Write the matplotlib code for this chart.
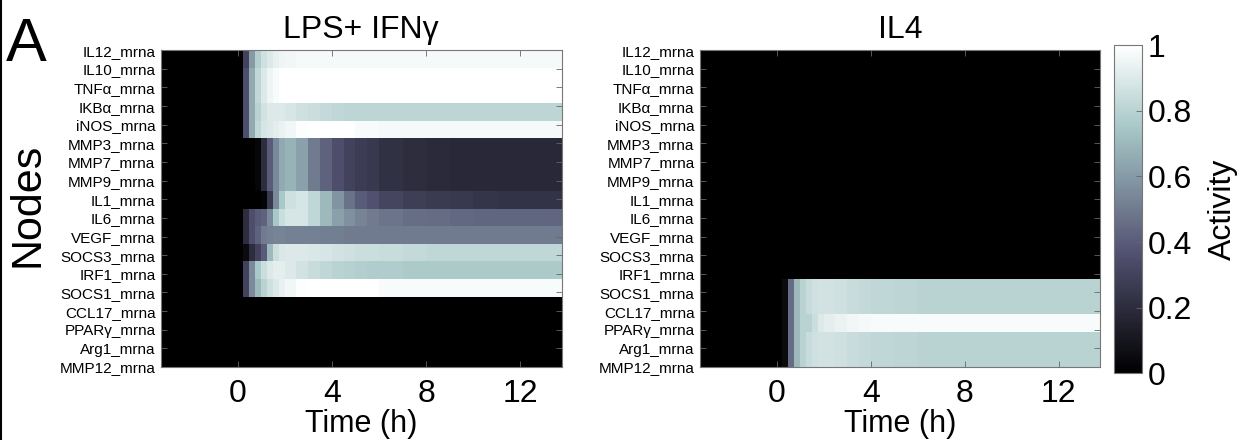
import numpy as np
import matplotlib
matplotlib.use("Agg")
import matplotlib.pyplot as plt
from matplotlib.lines import Line2D

plt.rcParams['font.family'] = ['Liberation Sans', 'DejaVu Sans']

nodes = ["IL12_mrna", "IL10_mrna", "TNFα_mrna", "IKBα_mrna", "iNOS_mrna",
         "MMP3_mrna", "MMP7_mrna", "MMP9_mrna", "IL1_mrna", "IL6_mrna",
         "VEGF_mrna", "SOCS3_mrna", "IRF1_mrna", "SOCS1_mrna", "CCL17_mrna",
         "PPARγ_mrna", "Arg1_mrna", "MMP12_mrna"]

# time bin edges (h)
time_edges = [-3.25, 0.25, 0.5, 0.75, 1.0, 1.25, 1.5, 1.75, 2.0, 2.5, 3.0, 3.5,
              4.0, 4.5, 5.0, 5.5, 6.0, 7.0, 8.0, 9.0, 10.0, 11.0, 12.0, 13.75]
n_cols = len(time_edges) - 1

# LPS + IFNg activity per node
lps_il12 = [0, 0.30, 0.60, 0.78, 0.86, 0.90, 0.93, 0.95, 0.96, 0.97, 0.97, 0.97,
            0.97, 0.97, 0.97, 0.97, 0.97, 0.97, 0.97, 0.97, 0.97, 0.97, 0.97]
lps_il10 = [0, 0.35, 0.65, 0.82, 0.90, 0.95, 0.98, 1.0, 1.0, 1.0, 1.0, 1.0,
            1.0, 1.0, 1.0, 1.0, 1.0, 1.0, 1.0, 1.0, 1.0, 1.0, 1.0]
lps_tnfa = [0, 0.35, 0.65, 0.82, 0.90, 0.95, 0.98, 1.0, 1.0, 1.0, 1.0, 1.0,
            1.0, 1.0, 1.0, 1.0, 1.0, 1.0, 1.0, 1.0, 1.0, 1.0, 1.0]
lps_ikba = [0, 0.35, 0.65, 0.80, 0.87, 0.90, 0.90, 0.90, 0.88, 0.86, 0.85, 0.83,
            0.82, 0.81, 0.81, 0.81, 0.81, 0.81, 0.81, 0.81, 0.81, 0.81, 0.81]
lps_inos = [0, 0.35, 0.65, 0.82, 0.88, 0.90, 0.92, 0.94, 0.96, 0.99, 1.0, 1.0,
            1.0, 1.0, 0.98, 0.98, 0.97, 0.97, 0.97, 0.97, 0.97, 0.97, 0.97]
lps_mmp3 = [0, 0, 0, 0.03, 0.20, 0.40, 0.55, 0.65, 0.68, 0.62, 0.50, 0.42,
            0.35, 0.30, 0.27, 0.25, 0.22, 0.20, 0.19, 0.18, 0.18, 0.18, 0.18]
lps_mmp7 = [0, 0, 0, 0.03, 0.20, 0.40, 0.55, 0.65, 0.68, 0.62, 0.50, 0.42,
            0.35, 0.30, 0.27, 0.25, 0.22, 0.20, 0.19, 0.18, 0.18, 0.18, 0.18]
lps_mmp9 = [0, 0, 0, 0.03, 0.20, 0.40, 0.55, 0.65, 0.68, 0.62, 0.50, 0.42,
            0.35, 0.30, 0.27, 0.25, 0.22, 0.20, 0.19, 0.18, 0.18, 0.18, 0.18]
lps_il1 = [0, 0, 0, 0, 0.02, 0.25, 0.55, 0.75, 0.86, 0.88, 0.82, 0.70,
           0.58, 0.47, 0.40, 0.36, 0.31, 0.28, 0.26, 0.25, 0.24, 0.23, 0.23]
lps_il6 = [0, 0.20, 0.35, 0.40, 0.42, 0.55, 0.75, 0.85, 0.88, 0.88, 0.82, 0.70,
           0.62, 0.57, 0.53, 0.50, 0.48, 0.46, 0.45, 0.44, 0.43, 0.43, 0.43]
lps_vegf = [0, 0.20, 0.35, 0.42, 0.50, 0.52, 0.53, 0.53, 0.52, 0.52, 0.52, 0.51,
            0.51, 0.50, 0.50, 0.50, 0.50, 0.50, 0.50, 0.50, 0.50, 0.50, 0.50]
lps_socs3 = [0, 0.05, 0.20, 0.30, 0.40, 0.70, 0.85, 0.89, 0.90, 0.90, 0.89, 0.88,
             0.87, 0.86, 0.85, 0.85, 0.84, 0.83, 0.82, 0.82, 0.82, 0.82, 0.82]
lps_irf1 = [0, 0.30, 0.55, 0.75, 0.85, 0.90, 0.92, 0.92, 0.90, 0.87, 0.84, 0.82,
            0.80, 0.79, 0.78, 0.77, 0.77, 0.76, 0.76, 0.76, 0.76, 0.76, 0.76]
lps_socs1 = [0, 0.30, 0.55, 0.70, 0.80, 0.86, 0.90, 0.93, 0.96, 0.99, 1.0, 1.0,
             1.0, 1.0, 1.0, 1.0, 0.98, 0.98, 0.98, 0.98, 0.98, 0.98, 0.98]

# IL4 activity per node
il4_socs1 = [0, 0.05, 0.45, 0.70, 0.80, 0.84, 0.86, 0.87, 0.87, 0.86, 0.84, 0.83,
             0.82, 0.82, 0.81, 0.81, 0.80, 0.80, 0.80, 0.80, 0.80, 0.80, 0.80]
il4_ccl17 = [0, 0.05, 0.45, 0.70, 0.80, 0.84, 0.86, 0.87, 0.87, 0.86, 0.84, 0.83,
             0.82, 0.82, 0.81, 0.81, 0.80, 0.80, 0.80, 0.80, 0.80, 0.80, 0.80]
il4_ppar = [0, 0.05, 0.45, 0.70, 0.80, 0.80, 0.85, 0.90, 0.92, 0.94, 0.96, 0.97,
            0.98, 0.98, 0.98, 0.98, 0.98, 0.98, 0.98, 0.98, 0.98, 0.98, 0.98]
il4_arg1 = [0, 0.05, 0.45, 0.70, 0.80, 0.84, 0.86, 0.87, 0.87, 0.86, 0.84, 0.83,
            0.82, 0.82, 0.81, 0.81, 0.80, 0.80, 0.80, 0.80, 0.80, 0.80, 0.80]
il4_mmp12 = [0, 0.05, 0.45, 0.70, 0.80, 0.84, 0.86, 0.87, 0.87, 0.86, 0.84, 0.83,
             0.82, 0.82, 0.81, 0.81, 0.80, 0.80, 0.80, 0.80, 0.80, 0.80, 0.80]

lps_data = {"IL12_mrna": lps_il12, "IL10_mrna": lps_il10, "TNFα_mrna": lps_tnfa,
            "IKBα_mrna": lps_ikba, "iNOS_mrna": lps_inos, "MMP3_mrna": lps_mmp3,
            "MMP7_mrna": lps_mmp7, "MMP9_mrna": lps_mmp9, "IL1_mrna": lps_il1,
            "IL6_mrna": lps_il6, "VEGF_mrna": lps_vegf, "SOCS3_mrna": lps_socs3,
            "IRF1_mrna": lps_irf1, "SOCS1_mrna": lps_socs1}
il4_data = {"SOCS1_mrna": il4_socs1, "CCL17_mrna": il4_ccl17, "PPARγ_mrna": il4_ppar,
            "Arg1_mrna": il4_arg1, "MMP12_mrna": il4_mmp12}


def to_matrix(d):
    return np.array([d.get(n, [0.0] * n_cols) for n in nodes])


fig = plt.figure(figsize=(12.48, 4.4), dpi=100)
ax1 = fig.add_axes([0.129, 0.166, 0.321, 0.720])
ax2 = fig.add_axes([0.561, 0.166, 0.3205, 0.720])
cax = fig.add_axes([0.893, 0.152, 0.0224, 0.745])

y_edges = np.arange(len(nodes) + 1)
for ax, d, title in [(ax1, lps_data, "LPS+ IFNγ"), (ax2, il4_data, "IL4")]:
    mesh = ax.pcolormesh(time_edges, y_edges, to_matrix(d), cmap="bone",
                         vmin=0, vmax=1, shading="flat")
    ax.set_xlim(time_edges[0], time_edges[-1])
    ax.set_ylim(len(nodes), 0)
    ax.set_xticks([0, 4, 8, 12])
    ax.set_xticklabels(["0", "4", "8", "12"], fontsize=23)
    ax.set_yticks(np.linspace(0, len(nodes), len(nodes)))
    ax.set_yticklabels(nodes, fontsize=11)
    ax.tick_params(direction="in", top=True, right=True, length=4,
                   color="#666666", width=0.6)
    ax.tick_params(axis="y", pad=4)
    ax.tick_params(axis="x", pad=9)
    ax.set_xlabel("Time (h)", fontsize=22, labelpad=0)
    ax.set_title(title, fontsize=23, pad=9)
    for s in ax.spines.values():
        s.set_color("#777777")
        s.set_linewidth(0.8)

cb = fig.colorbar(mesh, cax=cax)
cb.set_ticks([0, 0.2, 0.4, 0.6, 0.8, 1])
cb.set_ticklabels(["0", "0.2", "0.4", "0.6", "0.8", "1"])
cb.ax.tick_params(labelsize=23, direction="in", length=4, color="#666666", width=0.6)
cb.outline.set_edgecolor("#777777")
cb.outline.set_linewidth(0.8)
cb.set_label("Activity", fontsize=23, labelpad=12)

fig.text(0.005, 0.862, "A", fontsize=44, va="baseline", ha="left")
fig.text(0.022, 0.534, "Nodes", fontsize=31, rotation=90, va="center", ha="center")
fig.add_artist(Line2D([0.001, 0.001], [0, 1], color="black", lw=1.5,
                      transform=fig.transFigure))

fig.savefig("out.png", dpi=100)
